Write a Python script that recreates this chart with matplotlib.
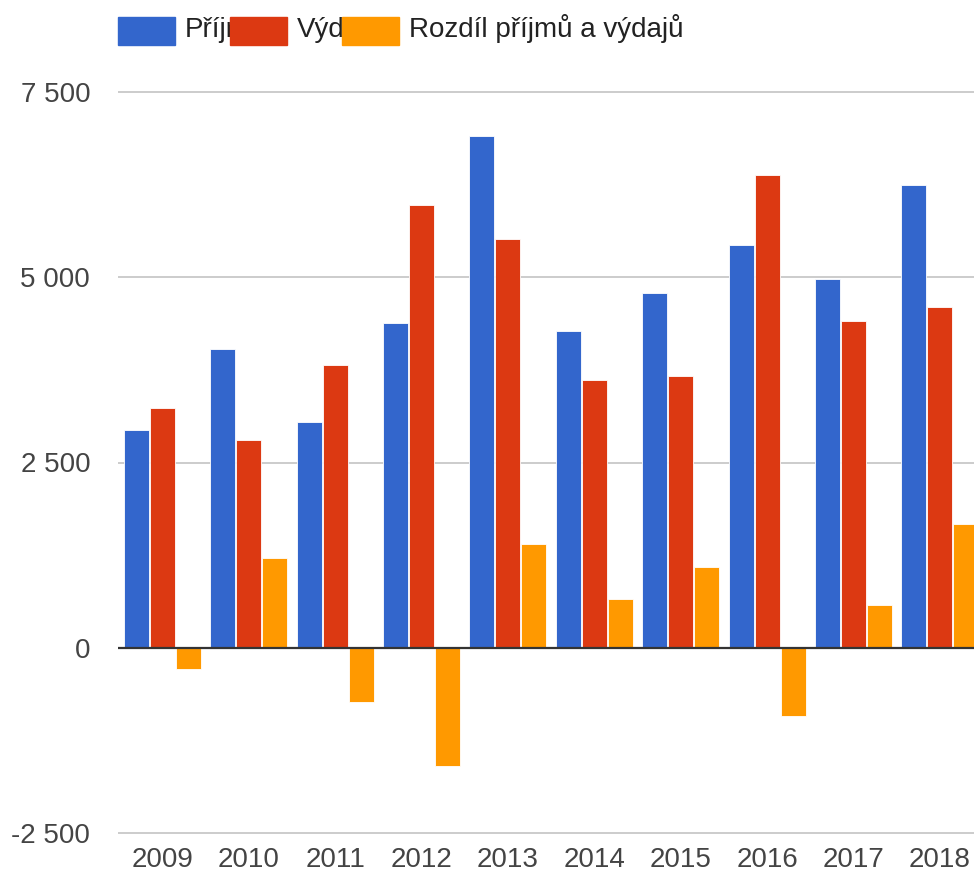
import matplotlib
matplotlib.use('Agg')
import matplotlib.pyplot as plt
import numpy as np
from matplotlib.patches import Rectangle
from matplotlib.ticker import FuncFormatter

plt.rcParams['font.family'] = ['Liberation Sans', 'DejaVu Sans']

# data
roky = ['2009', '2010', '2011', '2012', '2013', '2014', '2015', '2016', '2017', '2018']
prijmy = [2940, 4030, 3050, 4380, 6900, 4270, 4790, 5430, 4970, 6250]
vydaje = [3240, 2800, 3810, 5980, 5515, 3615, 3670, 6385, 4405, 4595]
rozdil = [-290, 1205, -730, -1595, 1395, 660, 1090, -915, 580, 1665]
nazvy = ['Příjmy', 'Výdaje', 'Rozdíl příjmů a výdajů']
barvy = ['#3366CC', '#DC3912', '#FF9900']

W, H = 974, 875
fig = plt.figure(figsize=(W / 100, H / 100), dpi=100)
ax = fig.add_axes([118 / W, (H - 840) / H, 1 - 118 / W, 755 / H])

x = np.arange(len(roky))
step = 0.301
for i, serie in enumerate([prijmy, vydaje, rozdil]):
    ax.bar(x + (i - 1) * step, serie, 0.29, color=barvy[i],
           edgecolor='white', linewidth=0.6, zorder=2)

ax.set_xlim(-0.513, 9.395)
upp = 10000 / 741
ax.set_ylim(-2500 - 7 * upp, 7500 + 7 * upp)
ax.set_yticks([-2500, 0, 2500, 5000, 7500])
ax.yaxis.set_major_formatter(FuncFormatter(lambda v, p: f'{int(v):,}'.replace(',', ' ')))
ax.set_xticks(x)
ax.set_xticklabels(roky)
ax.grid(axis='y', color='#cccccc', linewidth=1.4, zorder=0)
ax.axhline(0, color='#333333', linewidth=1.6, zorder=3)
for s in ax.spines.values():
    s.set_visible(False)
ax.tick_params(axis='both', length=0, labelsize=20, labelcolor='#444444')
ax.tick_params(axis='y', pad=20)
ax.tick_params(axis='x', pad=5)

# legend drawn by hand, entries overlap as in the original
for i, nazev in enumerate(nazvy):
    x0 = 118 + i * 112
    fig.patches.append(Rectangle((x0 / W, 1 - 45 / H), 57 / W, 28 / H,
                                 transform=fig.transFigure, color=barvy[i],
                                 zorder=2 * i + 1))
    fig.text((x0 + 67) / W, 1 - 37 / H, nazev, fontsize=20, color='#222222',
             va='baseline', ha='left', zorder=2 * i + 2)

fig.savefig('out.png', dpi=100)
